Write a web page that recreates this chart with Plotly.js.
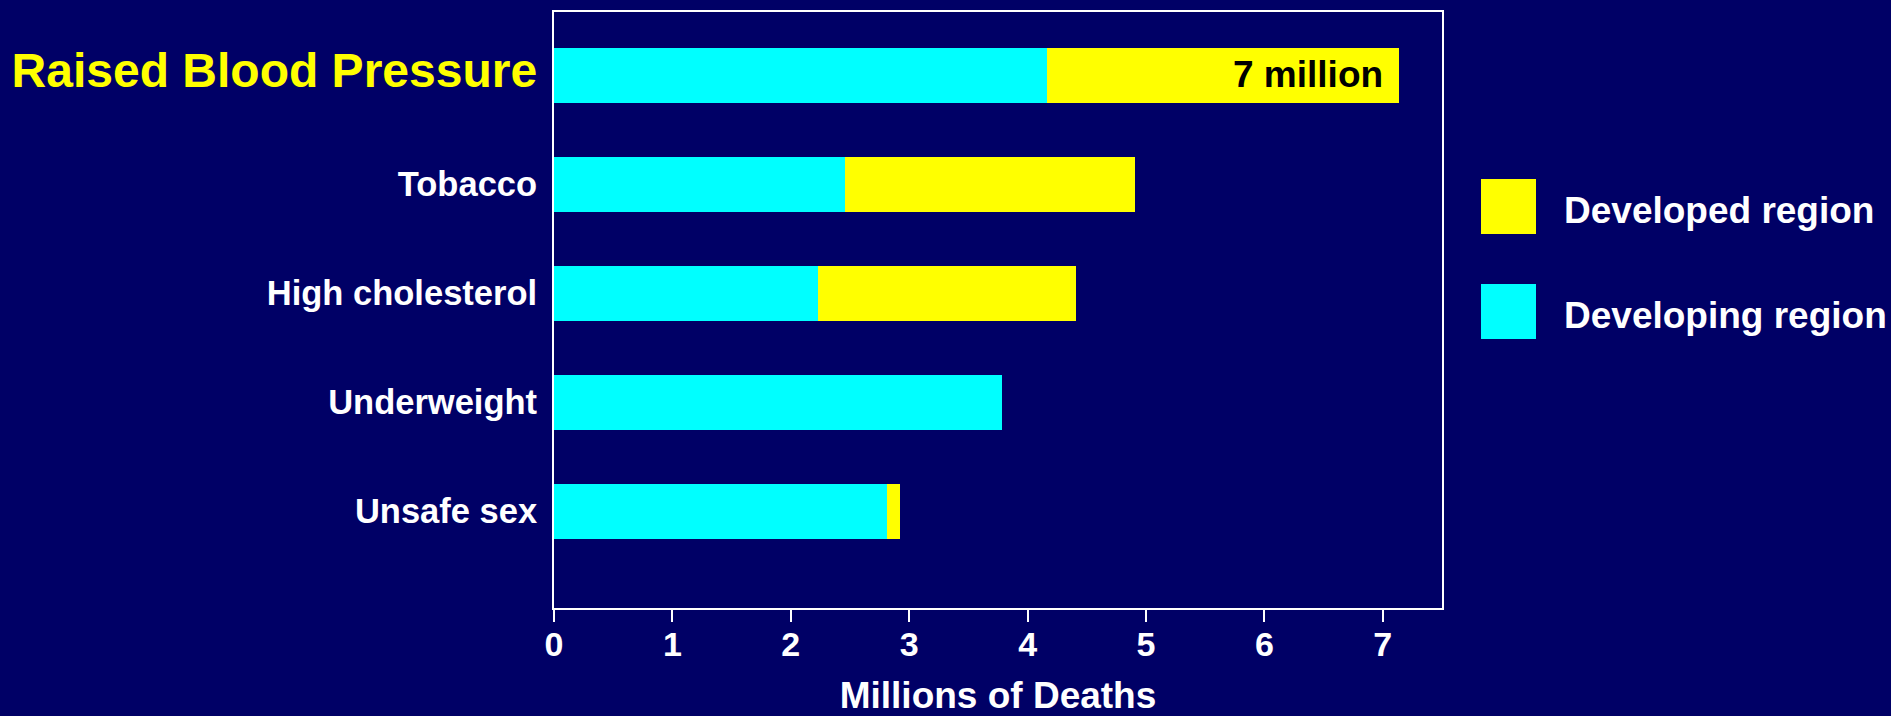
<!DOCTYPE html>
<html>
<head>
<meta charset="utf-8">
<script src="https://cdn.plot.ly/plotly-3.0.1.min.js"></script>
<style>
  html, body { margin: 0; padding: 0; background: #000066; }
  #chart { width: 1891px; height: 716px; }
</style>
</head>
<body>
<div id="chart"></div>
<script>
// ---- data ----
const categories = ['Raised Blood Pressure', 'Tobacco', 'High cholesterol', 'Underweight', 'Unsafe sex'];
const developing = [4.16, 2.46, 2.23, 3.78, 2.815];
const developed  = [2.98, 2.45, 2.18, 0.0, 0.105];
const seriesNames = ['Developed region', 'Developing region'];
const xTicks = [0, 1, 2, 3, 4, 5, 6, 7];
const highlightLabel = '7 million';

const BG = '#000066';
const CYAN = '#00ffff';
const YELLOW = '#ffff00';
const FONT = '"Liberation Sans", Arial, Helvetica, sans-serif';

const tickText = categories.map((c, i) =>
  i === 0 ? '<span style="color:#ffff00;font-size:48px">' + c + '</span>' : c);

const traces = [
  {
    type: 'bar', orientation: 'h', name: seriesNames[1],
    y: categories, x: developing,
    marker: { color: CYAN, line: { width: 0 } },
    width: 0.505, hoverinfo: 'skip'
  },
  {
    type: 'bar', orientation: 'h', name: seriesNames[0],
    y: categories, x: developed,
    marker: { color: YELLOW, line: { width: 0 } },
    width: 0.505, hoverinfo: 'skip'
  }
];

// plot area in pixels: x 554..1442, y 12..608
const L = 554, R = 1442, T = 12, B = 608;
const px = v => (v - L) / (R - L);
const py = v => (B - v) / (B - T);

const legendItems = [
  { name: seriesNames[0], color: YELLOW, y0: 179, y1: 234 },
  { name: seriesNames[1], color: CYAN, y0: 284, y1: 339 }
];

const shapes = legendItems.map(it => ({
  type: 'rect', xref: 'paper', yref: 'paper',
  x0: px(1481), x1: px(1536), y0: py(it.y1), y1: py(it.y0),
  fillcolor: it.color, line: { width: 0 }
}));

const annotations = legendItems.map(it => ({
  xref: 'paper', yref: 'paper',
  x: px(1562), y: py((it.y0 + it.y1) / 2),
  xanchor: 'left', yanchor: 'middle', showarrow: false, yshift: -4,
  text: it.name,
  font: { family: FONT, size: 37, color: '#ffffff', weight: 'bold' }
}));

annotations.push({
  xref: 'x', yref: 'y',
  x: developing[0] + developed[0], y: categories[0],
  xanchor: 'right', yanchor: 'middle', xshift: -14, yshift: 1,
  showarrow: false, text: highlightLabel,
  font: { family: FONT, size: 37, color: '#000000', weight: 'bold' }
});

const layout = {
  width: 1891, height: 716,
  paper_bgcolor: BG, plot_bgcolor: BG,
  barmode: 'stack',
  showlegend: false,
  margin: { l: L, r: 1891 - R, t: T, b: 716 - B, pad: 0 },
  font: { family: FONT, color: '#ffffff', weight: 'bold' },
  xaxis: {
    range: [0, 7.5],
    tickvals: xTicks, ticktext: xTicks.map(String),
    ticks: 'outside', ticklen: 12, tickwidth: 2, tickcolor: '#ffffff',
    ticklabelstandoff: -7,
    tickfont: { family: FONT, size: 34, color: '#ffffff', weight: 'bold' },
    showline: true, linecolor: '#ffffff', linewidth: 2, mirror: true,
    showgrid: false, zeroline: false,
    title: { text: 'Millions of Deaths', standoff: 44,
             font: { family: FONT, size: 37, color: '#ffffff', weight: 'bold' } },
    fixedrange: true
  },
  yaxis: {
    type: 'category',
    categoryorder: 'array', categoryarray: categories,
    range: [4.89, -0.58],
    tickvals: categories, ticktext: tickText,
    ticks: '', ticklabelstandoff: 8,
    tickfont: { family: FONT, size: 34.5, color: '#ffffff', weight: 'bold' },
    showline: true, linecolor: '#ffffff', linewidth: 2, mirror: true,
    showgrid: false, zeroline: false,
    fixedrange: true
  },
  shapes: shapes,
  annotations: annotations
};

Plotly.newPlot('chart', traces, layout, { staticPlot: true, displayModeBar: false });
</script>
</body>
</html>
